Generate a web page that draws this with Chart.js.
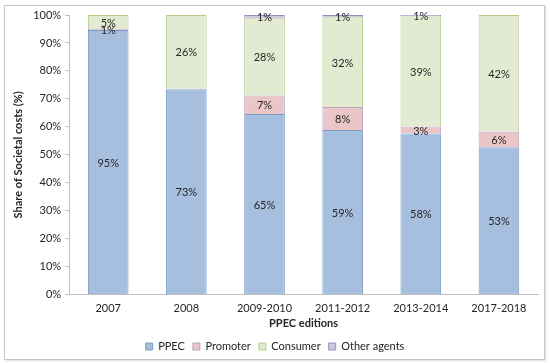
<!DOCTYPE html>
<html>
<head>
<meta charset="utf-8">
<script src="https://cdn.jsdelivr.net/npm/chart.js@4/dist/chart.umd.min.js"></script>
<style>
  html, body { margin: 0; padding: 0; background: #fff; }
  #wrap { position: relative; width: 550px; height: 363px; }
  #frame { position: absolute; left: 4px; top: 5px; width: 539px; height: 353px; border: 1px solid #c4c4c4; box-shadow: 1px 1px 2px #ddd; }
  canvas { position: absolute; left: 0; top: 0; }
</style>
</head>
<body>
<div id="wrap">
  <div id="frame"></div>
  <canvas id="c" width="550" height="363"></canvas>
</div>
<script>
  // ---- 数据 ----
  var editions = ['2007', '2008', '2009-2010', '2011-2012', '2013-2014', '2017-2018'];
  var ppec     = [94.6, 73.4, 64.6, 58.9, 57.6, 52.7];
  var promoter = [0.4, 0.2, 6.6, 8.2, 2.5, 5.5];
  var consumer = [5.0, 26.4, 27.6, 32.1, 39.4, 41.8];
  var others   = [0, 0, 1.2, 0.8, 0.5, 0];
  var yTicks   = [0, 10, 20, 30, 40, 50, 60, 70, 80, 90, 100];

  var FONT = 'Lato, "Open Sans", sans-serif';

  // 段内标签
  var segLabels = {
    id: 'segLabels',
    afterDatasetsDraw: function(chart) {
      var ctx = chart.ctx;
      ctx.save();
      ctx.font = '11px ' + FONT;
      ctx.fillStyle = '#262626';
      ctx.textAlign = 'center';
      ctx.textBaseline = 'middle';
      chart.data.datasets.forEach(function(ds, i) {
        var meta = chart.getDatasetMeta(i);
        meta.data.forEach(function(bar, j) {
          var v = ds.data[j];
          if (v < 0.3) return;
          var txt = Math.max(1, Math.round(v)) + '%';
          ctx.fillText(txt, bar.x, (bar.y + bar.base) / 2 + 1);
        });
      });
      ctx.restore();
    }
  };

  function ds(label, data, bg, border) {
    return { label: label, data: data, backgroundColor: bg, borderColor: border, borderWidth: 1,
      categoryPercentage: 1, barPercentage: 0.52 };
  }

  new Chart(document.getElementById('c'), {
    type: 'bar',
    data: {
      labels: editions,
      datasets: [
        ds('PPEC', ppec, '#a7bfdf', '#7c9cc8'),
        ds('Promoter', promoter, '#eac6c6', '#b9a3bf'),
        ds('Consumer', consumer, '#e2ebd2', '#b5cb8c'),
        ds('Other agents', others, '#d1c8e1', '#9a8dbd')
      ]
    },
    options: {
      responsive: false, animation: false,
      layout: { padding: { left: 12, right: 12, top: 15, bottom: 1 } },
      plugins: {
        legend: {
          position: 'bottom',
          labels: { font: { family: FONT, size: 11 }, color: '#262626', boxWidth: 7, boxHeight: 7, padding: 8 }
        },
        tooltip: { enabled: false }
      },
      scales: {
        x: {
          stacked: true,
          grid: { display: false, drawTicks: false },
          border: { display: true, color: '#c0c0c0' },
          ticks: { font: { family: FONT, size: 11 }, color: '#262626', padding: 7 },
          title: { display: true, text: 'PPEC editions', font: { family: FONT, size: 11, weight: 'bold' }, color: '#262626', padding: { top: -5, bottom: 3 } }
        },
        y: {
          stacked: true, min: 0, max: 100,
          afterBuildTicks: function(axis) { axis.ticks = yTicks.map(function(v) { return { value: v }; }); },
          grid: { drawOnChartArea: false, tickLength: 4, color: '#c0c0c0' },
          border: { display: true, color: '#c0c0c0' },
          ticks: { font: { family: FONT, size: 11 }, color: '#262626', padding: 4, callback: function(v) { return v + '%'; } },
          title: { display: true, text: 'Share of Societal costs (%)', font: { family: FONT, size: 11, weight: 'bold' }, color: '#262626', padding: { top: 0, bottom: 4 } }
        }
      }
    },
    plugins: [segLabels]
  });
</script>
</body>
</html>
